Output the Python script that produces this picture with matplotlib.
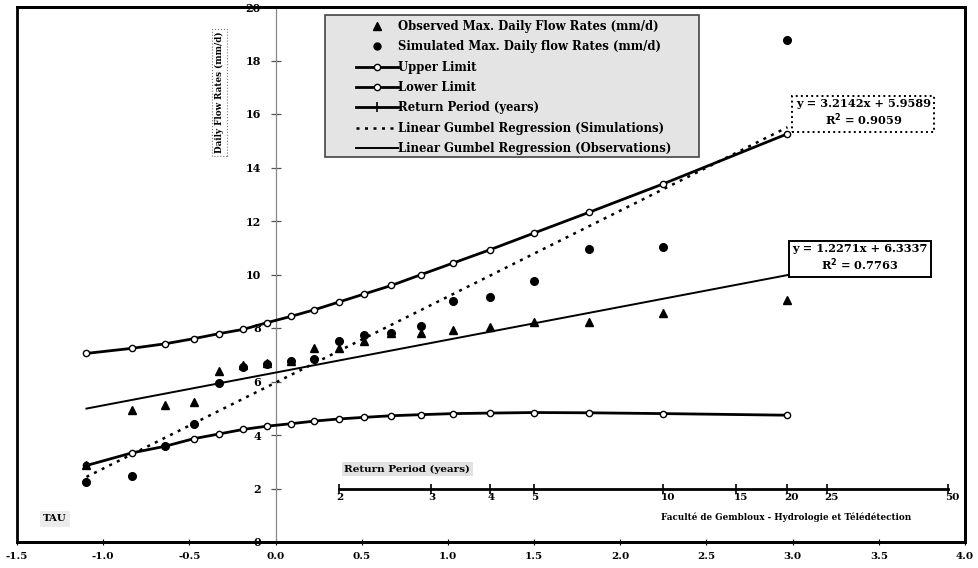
import matplotlib
matplotlib.use("Agg")
import matplotlib.pyplot as plt
from matplotlib.lines import Line2D
from matplotlib.patches import Rectangle

# ---------------- data ----------------
gumbel_x = [-1.097, -0.834, -0.640, -0.476, -0.327, -0.186, -0.049, 0.087, 0.225,
            0.367, 0.514, 0.672, 0.842, 1.031, 1.246, 1.500, 1.817, 2.250, 2.970]
observed = [2.86, 4.95, 5.14, 5.25, 6.41, 6.60, 6.69, 6.78, 7.25,
            7.27, 7.50, 7.81, 7.81, 7.94, 8.02, 8.22, 8.21, 8.56, 9.03]
simulated = [2.26, 2.46, 3.58, 4.42, 5.95, 6.54, 6.65, 6.78, 6.84,
             7.50, 7.75, 7.81, 8.06, 9.02, 9.16, 9.74, 10.96, 11.03, 18.78]
upper_limit = [7.05, 7.24, 7.41, 7.60, 7.79, 7.95, 8.20, 8.43, 8.68,
               8.97, 9.27, 9.59, 9.99, 10.43, 10.93, 11.55, 12.32, 13.39, 15.26]
lower_limit = [2.86, 3.33, 3.58, 3.86, 4.04, 4.21, 4.33, 4.42, 4.52,
               4.60, 4.66, 4.72, 4.76, 4.80, 4.82, 4.84, 4.83, 4.80, 4.74]

return_periods = ["2", "3", "4", "5", "10", "15", "20", "25", "50"]
return_x = [0.367, 0.903, 1.246, 1.500, 2.250, 2.674, 2.970, 3.199, 3.902]
return_level = 2.0

sim_slope, sim_intercept = 3.2142, 5.9589
obs_slope, obs_intercept = 1.2271, 6.3337
reg_x = [-1.097, 2.970]

x_ticks = [-1.5, -1.0, -0.5, 0.0, 0.5, 1.0, 1.5, 2.0, 2.5, 3.0, 3.5, 4.0]
y_ticks = [0, 2, 4, 6, 8, 10, 12, 14, 16, 18, 20]

labels = ["Observed Max. Daily Flow Rates (mm/d)",
          "Simulated Max. Daily flow Rates (mm/d)",
          "Upper Limit",
          "Lower Limit",
          "Return Period (years)",
          "Linear Gumbel Regression (Simulations)",
          "Linear Gumbel Regression (Observations)"]

# ---------------- figure ----------------
plt.rcParams['font.family'] = ['DejaVu Serif']
plt.rcParams['font.weight'] = 'bold'

fig = plt.figure(figsize=(9.79, 5.68), dpi=100)
ax = fig.add_axes([17/979, 1 - 542/568, 948/979, 535/568])
ax.set_xlim(-1.5, 4.0)
ax.set_ylim(0, 20)

# box around plot
for s in ['top', 'right', 'bottom']:
    ax.spines[s].set_linewidth(2.0)
ax.spines['left'].set_position(('data', 0))
ax.spines['left'].set_color('#888888')
ax.spines['left'].set_linewidth(0.9)
ax.add_patch(Rectangle((0, 0), 1, 1, transform=ax.transAxes, fill=False,
                       lw=2.0, ec='black', clip_on=False, zorder=5))

ax.set_xticks(x_ticks)
ax.set_xticklabels([f"{v:.1f}" for v in x_ticks], fontsize=7.5, fontweight='bold')
ax.set_yticks(y_ticks)
ax.set_yticklabels([str(v) for v in y_ticks], fontsize=8, fontweight='bold')
ax.tick_params(axis='x', direction='inout', length=5, width=0.8, pad=5)
ax.tick_params(axis='y', direction='inout', length=7, width=0.9, color='#555555', pad=7)

# regression lines
sim_reg = [sim_slope * v + sim_intercept for v in reg_x]
obs_reg = [obs_slope * v + obs_intercept for v in reg_x]
ax.plot(reg_x, sim_reg, ls=(0, (1.2, 2.2)), lw=1.8, color='black', zorder=3)
ax.plot(reg_x, obs_reg, ls='-', lw=1.4, color='black', zorder=3)

# limits
ax.plot(gumbel_x, upper_limit, '-', lw=2.0, color='black', marker='o', ms=4.5,
        mfc='white', mec='black', mew=1.0, zorder=4)
ax.plot(gumbel_x, lower_limit, '-', lw=2.0, color='black', marker='o', ms=4.5,
        mfc='white', mec='black', mew=1.0, zorder=4)

# points
ax.plot(gumbel_x, observed, ls='none', marker='^', ms=6, color='black', zorder=6)
ax.plot(gumbel_x, simulated, ls='none', marker='o', ms=5.5, color='black', zorder=6)

# return period axis
ax.plot(return_x, [return_level] * len(return_x), '-', lw=2.0, color='black',
        marker='|', ms=7, mew=1.2, zorder=4)
for xv, lab in zip(return_x, return_periods):
    ax.annotate(lab, (xv, return_level), xytext=(-2, -3), textcoords='offset points',
                ha='left', va='top', fontsize=7.5, fontweight='bold')
ax.text(0.40, 2.72, "Return Period (years)", fontsize=7.5, fontweight='bold',
        ha='left', va='center',
        bbox=dict(boxstyle='square,pad=0.25', fc='#e2e2e2', ec='none'))

# equation boxes
ax.text(3.41, 16.03, "y = 3.2142x + 5.9589\nR$^2$ = 0.9059", fontsize=8.2,
        fontweight='bold', ha='center', va='center', linespacing=1.2,
        bbox=dict(boxstyle='square,pad=0.3', fc='white', ec='black', ls=':', lw=1.4),
        zorder=7)
ax.text(3.39, 10.61, "y = 1.2271x + 6.3337\nR$^2$ = 0.7763", fontsize=8.2,
        fontweight='bold', ha='center', va='center', linespacing=1.2,
        bbox=dict(boxstyle='square,pad=0.3', fc='white', ec='black', lw=1.4),
        zorder=7)

# y label
ax.text(-0.325, 16.8, "Daily Flow Rates (mm/d)", rotation=90, fontsize=6.3,
        fontweight='bold', ha='center', va='center',
        bbox=dict(boxstyle='square,pad=0.3', fc='white', ec='#777777', ls=':', lw=0.8))

# TAU and credit
ax.text(-1.28, 0.86, "TAU", fontsize=7.3, fontweight='bold', ha='center', va='center',
        bbox=dict(boxstyle='square,pad=0.3', fc='#ececec', ec='none'))
ax.text(2.96, 0.92, "Faculté de Gembloux - Hydrologie et Télédétection", fontsize=6.3,
        fontweight='bold', ha='center', va='center')

# legend frame (drawn separately for exact placement)
W, H = 979, 568
ax.add_patch(Rectangle((325 / W, 1 - 157 / H), (699 - 325) / W, (157 - 15) / H,
                       transform=fig.transFigure, fc='#e4e4e4', ec='#444444',
                       lw=1.2, zorder=8, clip_on=False))

handles = [
    Line2D([], [], ls='none', marker='^', ms=6, color='black'),
    Line2D([], [], ls='none', marker='o', ms=5, color='black'),
    Line2D([], [], ls='-', lw=2.0, color='black', marker='o', ms=4.5, mfc='white', mew=1.0),
    Line2D([], [], ls='-', lw=2.0, color='black', marker='o', ms=4.5, mfc='white', mew=1.0),
    Line2D([], [], ls='-', lw=2.0, color='black', marker='|', ms=7, mew=1.2),
    Line2D([], [], ls=(0, (1.2, 2.2)), lw=1.8, color='black'),
    Line2D([], [], ls='-', lw=1.4, color='black'),
]
leg = ax.legend(handles, labels, loc='upper left',
                bbox_to_anchor=(356 / W, 1 - 20 / H), bbox_transform=fig.transFigure,
                prop={'weight': 'bold', 'size': 8.4}, numpoints=1,
                handlelength=3.6, handletextpad=0.0, labelspacing=0.63,
                borderpad=0.0, borderaxespad=0.0, frameon=False)
leg.set_zorder(9)

fig.savefig("out.png", dpi=100, facecolor='white')
